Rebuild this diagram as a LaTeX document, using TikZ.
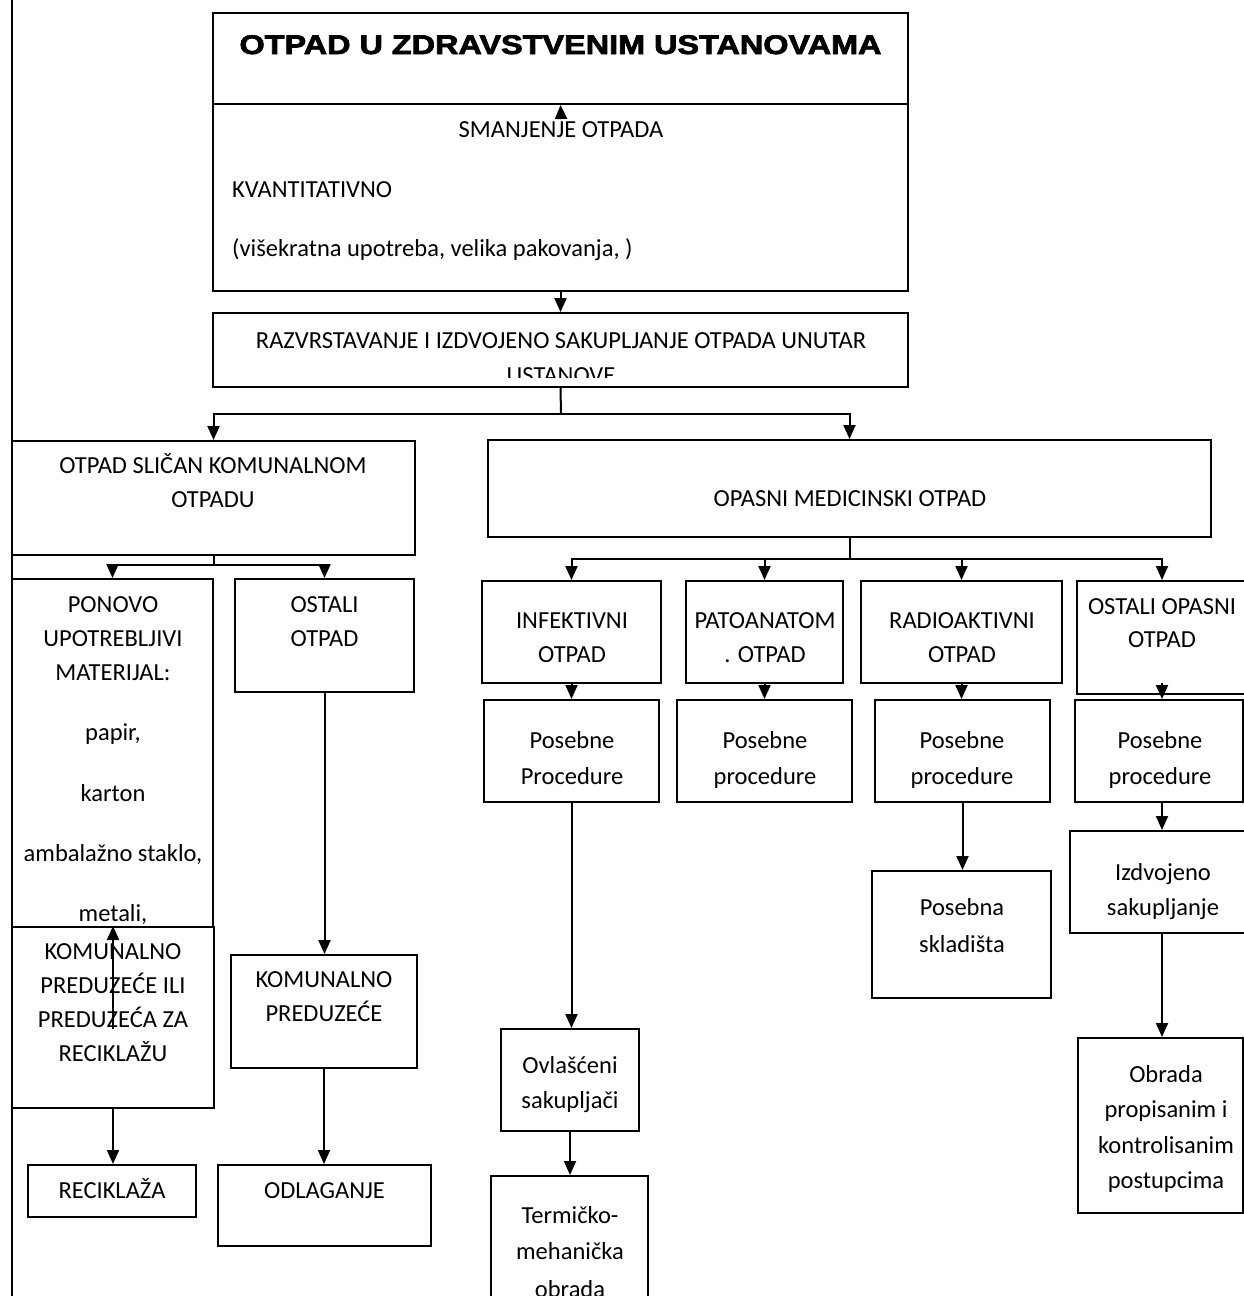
\documentclass[tikz,border=0pt]{standalone}
\usepackage{fontspec}
\setmainfont{Carlito}
\newfontfamily\titlefont[UprightFont={* Bold},UprightFeatures={FakeBold=2.5}]{Liberation Sans}
\usepackage{graphicx}
\usetikzlibrary{arrows.meta,fit}
\begin{document}
\begin{tikzpicture}[x=1pt,y=-1pt,
  box/.style={draw, line width=2pt, inner sep=0pt, fill=white},
  txt/.style={anchor=base, inner sep=0pt, font=\fontsize{24.5}{34}\selectfont},
  txtl/.style={anchor=base west, inner sep=0pt, font=\fontsize{24.5}{34}\selectfont},
  arr/.style={line width=2pt, -{Triangle[length=14pt,width=12pt]}},
  ln/.style={line width=2pt}]
\useasboundingbox (0,0) rectangle (1244,1296);
% page line
\coordinate (ptop) at (12,0);
\coordinate (pbot) at (12,1296);
\draw[line width=2.4pt] (ptop) -- (pbot);
% boxes
\node[box, fit={(213,13) (908,104)}] (title) {};
\node[box, fit={(213,104) (908,291)}] (smanj) {};
\node[box, fit={(213,313) (908,387)}] (razv) {};
\node[box, fit={(12,441) (415,555)}] (kom) {};
\node[box, fit={(488,440) (1211,537)}] (opasni) {};
\node[box, fit={(12,579) (213,927)}] (ponovo) {};
\node[box, fit={(12,927) (214,1108)}] (komrec) {};
\node[box, fit={(235,579) (414,692)}] (ostali) {};
\node[box, fit={(231,955) (417,1068)}] (kompred) {};
\node[box, fit={(28,1165) (196,1217)}] (recikl) {};
\node[box, fit={(218,1165) (431,1246)}] (odlag) {};
\node[box, fit={(482,581) (661,683)}] (infek) {};
\node[box, fit={(686,581) (843,683)}] (pato) {};
\node[box, fit={(861,581) (1062,683)}] (radio) {};
\node[box, fit={(1077,581) (1247,694)}] (ostop) {};
\node[box, fit={(484,700) (659,802)}] (pos1) {};
\node[box, fit={(677,700) (852,802)}] (pos2) {};
\node[box, fit={(875,700) (1050,802)}] (pos3) {};
\node[box, fit={(1075,700) (1243,802)}] (pos4) {};
\node[box, fit={(872,871) (1051,998)}] (posebna) {};
\node[box, fit={(1070,831) (1250,933)}] (izdv) {};
\node[box, fit={(501,1029) (639,1131)}] (ovl) {};
\node[box, fit={(491,1176) (648,1320)}] (term) {};
\node[box, fit={(1078,1038) (1243,1213)}] (obrada) {};
% texts
\node[txt] (t0) at (560.5,54) {\scalebox{1.2}[1]{\titlefont\fontsize{27}{30}\selectfont OTPAD U ZDRAVSTVENIM USTANOVAMA}};
\node[txt] (t1) at (561,137) {SMANJENJE OTPADA};
\node[txtl] (t2) at (232,197) {KVANTITATIVNO};
\node[txtl] (t3) at (232,256) {(višekratna upotreba, velika pakovanja, )};
\node[txt] (t4) at (561,348) {RAZVRSTAVANJE I IZDVOJENO SAKUPLJANJE OTPADA UNUTAR};
\begin{scope}
\clip (213,313) rectangle (908,377);
\node[txt] (t5) at (561,383) {USTANOVE};
\end{scope}
\node[txt] (t6) at (213,473) {OTPAD SLIČAN KOMUNALNOM};
\node[txt] (t7) at (213,507) {OTPADU};
\node[txt] (t8) at (850,506) {OPASNI MEDICINSKI OTPAD};
\node[txt] (p1) at (113,612) {PONOVO};
\node[txt] (p2) at (113,646) {UPOTREBLJIVI};
\node[txt] (p3) at (113,680) {MATERIJAL:};
\node[txt] (p4) at (113,740) {papir,};
\node[txt] (p5) at (113,801) {karton};
\node[txt] (p6) at (113,861) {ambalažno staklo,};
\node[txt] (p7) at (113,921) {metali,};
\node[txt] (o1) at (324.5,612) {OSTALI};
\node[txt] (o2) at (324.5,646) {OTPAD};
\node[txt] (k1) at (113,959) {KOMUNALNO};
\node[txt] (k2) at (113,993) {PREDUZEĆE ILI};
\node[txt] (k3) at (113,1027) {PREDUZEĆA ZA};
\node[txt] (k4) at (113,1061) {RECIKLAŽU};
\node[txt] (kp1) at (324,987) {KOMUNALNO};
\node[txt] (kp2) at (324,1021) {PREDUZEĆE};
\node[txt] (r1) at (112,1198) {RECIKLAŽA};
\node[txt] (d1) at (324.5,1198) {ODLAGANJE};
\node[txt] (i1) at (572,628) {INFEKTIVNI};
\node[txt] (i2) at (572,662) {OTPAD};
\node[txt] (pa1) at (765,628) {PATOANATOM};
\node[txt] (pa2) at (765,662) {. OTPAD};
\node[txt] (ra1) at (962,628) {RADIOAKTIVNI};
\node[txt] (ra2) at (962,662) {OTPAD};
\node[txt] (os1) at (1162,614) {OSTALI OPASNI};
\node[txt] (os2) at (1162,647) {OTPAD};
\node[txt] (q1) at (572,748) {Posebne};
\node[txt] (q2) at (572,784) {Procedure};
\node[txt] (q3) at (765,748) {Posebne};
\node[txt] (q4) at (765,784) {procedure};
\node[txt] (q5) at (962,748) {Posebne};
\node[txt] (q6) at (962,784) {procedure};
\node[txt] (q7) at (1160,748) {Posebne};
\node[txt] (q8) at (1160,784) {procedure};
\node[txt] (s1) at (962,915) {Posebna};
\node[txt] (s2) at (962,952) {skladišta};
\node[txt] (z1) at (1163,880) {Izdvojeno};
\node[txt] (z2) at (1163,915) {sakupljanje};
\node[txt] (v1) at (570,1073) {Ovlašćeni};
\node[txt] (v2) at (570,1108) {sakupljači};
\node[txt] (m1) at (570,1223) {Termičko-};
\node[txt] (m2) at (570,1259) {mehanička};
\node[txt] (m3) at (570,1297) {obrada};
\node[txt] (b1) at (1166,1082) {Obrada};
\node[txt] (b2) at (1166,1117) {propisanim i};
\node[txt] (b3) at (1166,1153) {kontrolisanim};
\node[txt] (b4) at (1166,1188) {postupcima};
% connectors
\coordinate (a1) at (561,119);
\draw[arr] (a1) -- (title.south);
\draw[arr] (smanj.south) -- (razv.north);
\coordinate (j1) at (561,414);
\draw[ln] (razv.south) -- (j1);
\draw[arr] (j1) -| (kom.north);
\draw[arr] (j1) -| (opasni.north);
\coordinate (j2) at (213.5,565);
\draw[ln] (kom.south) -- (j2);
\draw[arr] (j2) -| (ponovo.north);
\draw[arr] (j2) -| (ostali.north);
\draw[arr] (ostali.south) -- (ostali.south |- kompred.north);
\draw[arr] (kompred.south) -- (kompred.south |- odlag.north);
\draw[arr] (komrec.south) -- (komrec.south |- recikl.north);
\coordinate (a2) at (113,1029);
\draw[arr] (a2) -- (komrec.north);
\coordinate (j3) at (849.5,559);
\draw[ln] (opasni.south) -- (j3);
\draw[arr] (j3) -| (infek.north);
\draw[arr] (j3) -| (pato.north);
\draw[arr] (j3) -| (radio.north);
\draw[arr] (j3) -| (ostop.north);
\draw[arr] (infek.south) -- (infek.south |- pos1.north);
\draw[arr] (pato.south) -- (pato.south |- pos2.north);
\draw[arr] (radio.south) -- (radio.south |- pos3.north);
\coordinate (a3) at (1162,683);
\draw[arr] (a3) -- (a3 |- pos4.north);
\draw[arr] (pos1.south) -- (pos1.south |- ovl.north);
\draw[arr] (ovl.south) -- (ovl.south |- term.north);
\draw[arr] (pos3.south) -- (pos3.south |- posebna.north);
\draw[arr] (a3 |- pos4.south) -- (a3 |- izdv.north);
\draw[arr] (a3 |- izdv.south) -- (a3 |- obrada.north);
\end{tikzpicture}
\end{document}
